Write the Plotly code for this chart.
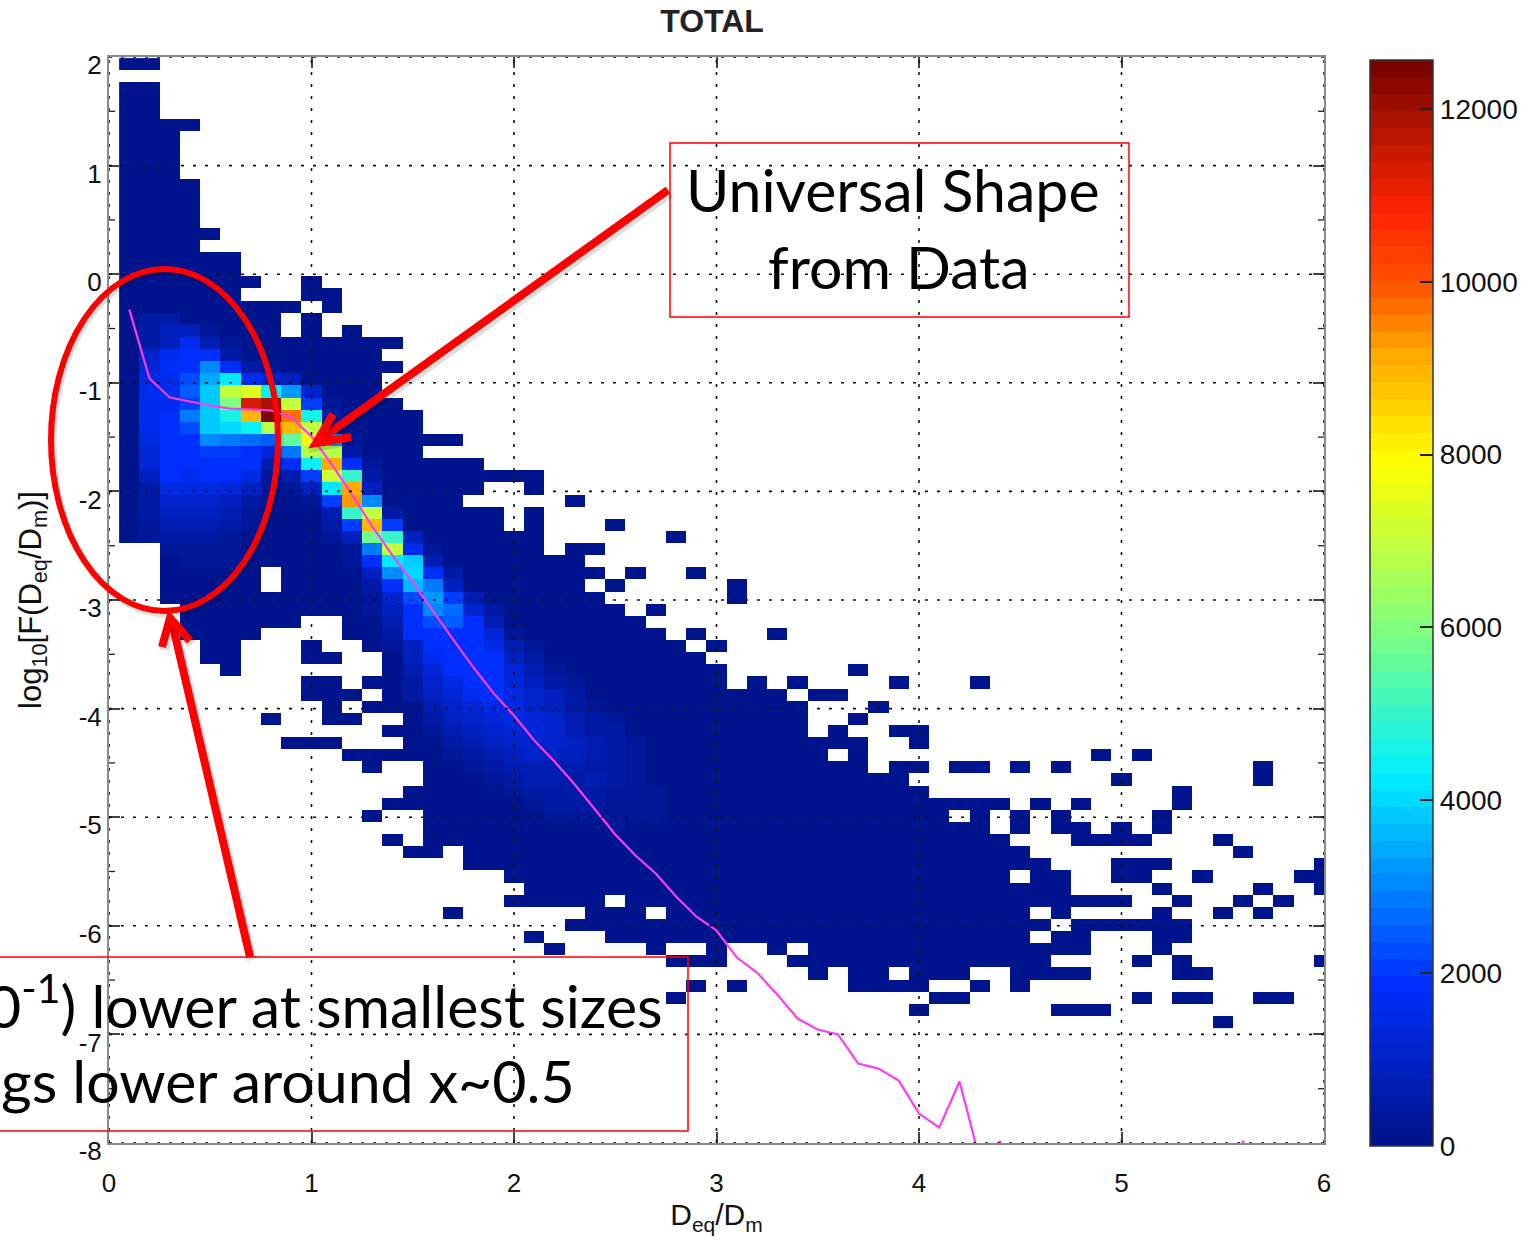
import numpy as np
import plotly.graph_objects as go

# ---------- data ----------
x_centers = [round(0.1 * (k + 1), 1) for k in range(60)]
y_first_center = 1.934
y_step = -0.1117

# occupied cells: row -> inclusive column runs
occupied = {
 0:[(0,1)], 2:[(0,1)], 3:[(0,1)], 4:[(0,1)], 5:[(0,3)], 6:[(0,2)], 7:[(0,2)], 8:[(0,2)], 9:[(0,2)],
 10:[(0,3)], 11:[(0,3)], 12:[(0,3)], 13:[(0,3)], 14:[(0,4)], 15:[(0,3)], 16:[(0,5)], 17:[(0,5)],
 18:[(0,6),(9,9)], 19:[(0,5),(9,10)], 20:[(0,8),(10,10)], 21:[(0,7),(9,9)], 22:[(0,7),(9,9),(11,11)],
 23:[(0,13)], 24:[(0,12)], 25:[(0,13)], 26:[(0,12)], 27:[(0,12)], 28:[(0,13)], 29:[(0,14)], 30:[(0,14)],
 31:[(0,16)], 32:[(0,14)], 33:[(0,17)], 34:[(0,20)], 35:[(0,17),(20,20)], 36:[(0,16),(22,22)],
 37:[(0,18),(20,20)], 38:[(0,18),(20,20),(24,24)], 39:[(0,20),(27,27)], 40:[(2,20),(22,23)], 41:[(2,22)],
 42:[(2,6),(8,23),(25,25),(28,28)], 43:[(2,6),(8,22),(24,24),(30,30)], 44:[(2,23),(30,30)],
 45:[(3,24),(26,26)], 46:[(3,8),(11,25)], 47:[(3,6),(11,26),(28,28),(32,32)],
 48:[(4,5),(9,9),(12,27),(29,29)], 49:[(4,5),(9,10),(13,28)], 50:[(5,5),(13,29),(36,36)],
 51:[(9,10),(12,29),(31,31),(33,33),(38,38),(42,42)], 52:[(9,11),(13,32),(34,35)],
 53:[(10,10),(12,33),(37,37)], 54:[(7,7),(10,11),(14,33),(36,36)], 55:[(13,33),(35,35),(38,39)],
 56:[(8,10),(14,36),(39,39)], 57:[(11,34),(36,36),(48,48),(50,50)],
 58:[(12,12),(15,36),(38,39),(41,42),(44,44),(46,46),(56,56)], 59:[(15,38),(49,49),(56,56)],
 60:[(14,39),(52,52)], 61:[(13,43),(45,45),(47,47),(52,52)],
 62:[(12,12),(15,40),(42,42),(44,44),(46,46),(51,51)], 63:[(15,42),(44,44),(46,47),(49,49),(51,51)],
 64:[(13,13),(15,43),(47,50),(54,54)], 65:[(14,15),(17,44),(55,55)], 66:[(17,45),(49,51),(59,59)],
 67:[(19,43),(45,46),(49,50),(53,53),(58,59)], 68:[(20,46),(51,51),(56,56),(59,59)],
 69:[(19,23),(25,49),(52,52),(55,55),(57,57)], 70:[(16,16),(23,25),(27,44),(46,46),(51,51),(54,54),(56,56)],
 71:[(22,45),(47,52)], 72:[(20,20),(24,44),(46,47),(51,52)],
 73:[(21,21),(26,26),(29,29),(32,32),(34,47),(51,51)], 74:[(27,29),(33,45),(50,50),(52,52),(59,59)],
 75:[(34,34),(36,37),(39,41),(44,47),(52,53)], 76:[(28,28),(30,30),(36,39),(42,42),(44,44)],
 77:[(27,27),(40,41),(50,50),(52,53),(56,57)], 78:[(39,39),(46,48)], 79:[(54,54)],
}

# counts above the dark background: row -> (first column, values)
counts = {
 21:(1,[400,400]),
 22:(0,[150,450,800,800,200]),
 23:(0,[100,500,800,1700,700,200]),
 24:(0,[100,1000,1600,1800,1900,500,100]),
 25:(0,[150,1300,1800,1900,3000,1900,400,200]),
 26:(0,[150,1500,1700,2300,3500,4300,1700,1100,900,100]),
 27:(0,[150,1700,1700,2500,3800,6900,7300,4400,3200,1000]),
 28:(0,[150,1700,1700,2100,3900,6000,11200,11800,6900,2100,200]),
 29:(0,[60,1700,1800,2900,3900,4600,9000,12500,9700,4600,500]),
 30:(0,[60,1700,1800,2300,3900,4100,4400,6800,9000,7000,100]),
 31:(0,[50,1500,1800,1900,3000,2900,2700,2400,5500,8000,3200,300]),
 32:(0,[50,1300,1800,1800,2100,2100,1900,1300,2900,6800,6700,500]),
 33:(0,[50,1200,1800,1800,1900,1800,1800,700,1800,4500,9200,1800,200]),
 34:(1,[800,1800,1700,1800,1800,1500,300,700,2100,7100,5000,500]),
 35:(1,[500,1400,1400,1500,1300,800,200,200,800,4300,9200,800]),
 36:(1,[400,1000,1000,1100,800,500,150,100,200,2000,9300,3000,100]),
 37:(1,[400,800,900,900,700,350,100,50,50,700,5000,6900,400]),
 38:(1,[350,600,700,700,500,300,50,50,50,400,2000,9000,2000,100]),
 39:(1,[300,400,500,500,300,100,50,50,50,300,800,5700,5000,800]),
 40:(2,[250,300,300,300,100,50,50,50,50,300,2900,6900,1700,200]),
 41:(2,[100,200,200,200,50,50,50,50,50,200,1800,4300,3800,700]),
 42:(3,[100,100,100,0,0,0,0,0,0,800,3000,4000,1900,400]),
 43:(12,[500,1800,3700,2800,900]),
 44:(12,[300,1000,2200,3200,2000,700,100]),
 45:(12,[250,900,1900,3000,2700,1100,400,100]),
 46:(13,[600,1900,2300,2500,1800,700,100]),
 47:(13,[500,1900,1900,1900,1900,1200,350,100]),
 48:(13,[200,900,1900,1900,1900,1400,700,250]),
 49:(13,[150,800,1700,1900,1900,1850,950,500,100]),
 50:(13,[50,700,1350,1900,1900,1900,1200,600,250,100]),
 51:(14,[500,1150,1500,1800,1900,1300,850,500,300,100]),
 52:(14,[400,950,1250,1700,1800,1500,1050,800,400,150,100]),
 53:(14,[100,650,1050,1250,1400,1400,1150,850,550,350,150]),
 54:(15,[400,800,1100,1300,1400,1200,1000,600,400,200]),
 55:(15,[300,600,900,1100,1300,1200,1000,700,500,400,150]),
 56:(15,[150,400,600,900,1100,1000,1000,900,600,500,300,100]),
 57:(16,[200,400,700,950,1000,900,850,600,500,300,150]),
 58:(17,[200,400,750,750,700,650,550,450,350,100]),
 59:(18,[300,500,600,600,550,600,400,300,150]),
 60:(18,[100,350,500,500,500,550,350,300,250,120]),
 61:(19,[150,350,400,400,450,350,300,250,120]),
 62:(19,[50,100,250,250,300,250,250,200,150,100]),
 63:(21,[100,50,120,200,100,150]),
}

universal_x = [0.1,0.2,0.3,0.4,0.5,0.6,0.7,0.8,0.9,1.0,1.1,1.2,1.3,1.4,1.5,1.6,1.7,1.8,1.9,2.0,
               2.1,2.2,2.3,2.4,2.5,2.6,2.7,2.8,2.9,3.0,3.1,3.2,3.3,3.4,3.5,3.6,3.7,3.8,3.9,4.0,
               4.1,4.2,4.3,None,4.3,4.4,4.5,None,5.5,5.6,5.7]
universal_y = [-0.325,-0.96,-1.135,-1.172,-1.209,-1.237,-1.246,-1.255,-1.32,-1.494,-1.752,-2.029,-2.323,
               -2.59,-2.839,-3.106,-3.364,-3.622,-3.861,-4.064,-4.294,-4.487,-4.699,-4.929,-5.159,-5.353,
               -5.518,-5.73,-5.914,-6.043,-6.292,-6.431,-6.633,-6.854,-6.955,-7.0,-7.269,-7.315,-7.425,
               -7.729,-7.858,-7.434,-8.15,None,-8.6,-7.98,-8.6,None,-8.6,-7.98,-8.6]

x_ticks = [0,1,2,3,4,5,6]
y_ticks = [2,1,0,-1,-2,-3,-4,-5,-6,-7,-8]
y_tick_text = ["2","1","0","-1","-2","-3","-4","-5","-6","-7","-8"]
bar_ticks = [0,2000,4000,6000,8000,10000,12000]
bar_tick_text = ["0","2000","4000","6000","8000","10000","12000"]
z_top = 12565

# ---------- colours ----------
anchor_v = [0,1900,3000,4300,6000,7900,9200,10000,10800,12000,12565]
anchor_c = [(0,18,135),(0,48,255),(0,135,255),(0,240,255),(130,255,125),(255,255,0),
            (255,165,0),(255,80,0),(255,36,0),(160,16,0),(115,0,0)]
n_bands = 64
scale = []
for i in range(n_bands):
    mid = (i + .5) / n_bands * z_top
    rgb = [int(round(np.interp(mid, anchor_v, [c[j] for c in anchor_c]))) for j in range(3)]
    col = f"rgb({rgb[0]},{rgb[1]},{rgb[2]})"
    scale += [[i / n_bands, col], [(i + 1) / n_bands, col]]

# ---------- grid ----------
n_rows = 80
z = [[None] * 60 for _ in range(n_rows)]
for r, runs in occupied.items():
    for a, b in runs:
        for k in range(a, b + 1):
            z[r][k] = 40
for r, (first, vals) in counts.items():
    for i, v in enumerate(vals):
        if z[r][first + i] is not None:
            z[r][first + i] = max(v, 40)
y_centers = [y_first_center + y_step * r for r in range(n_rows)]

# ---------- page geometry helpers for the overlay drawing ----------
L, R, T, B = 109, 1324, 57, 1143
px = lambda v: (v - L) / (R - L)
py = lambda v: (B - v) / (B - T)
RED = "#ff0000"
FONT = "Liberation Sans"

fig = go.Figure()
fig.add_trace(go.Heatmap(
    x=x_centers, y=y_centers, z=z, zmin=0, zmax=z_top, colorscale=scale, hoverongaps=False, xgap=0, ygap=0,
    colorbar=dict(x=px(1370), xanchor="left", xref="paper", y=py(1146), yanchor="bottom", yref="paper",
                  lenmode="pixels", len=1086, thicknessmode="pixels", thickness=63, xpad=0, ypad=0,
                  outlinecolor="#333", outlinewidth=1.5, tickmode="array", tickvals=bar_ticks,
                  ticktext=bar_tick_text, ticks="inside", ticklen=13, tickcolor="#222", tickwidth=1.5,
                  tickfont=dict(family=FONT, size=28, color="#111"))))
fig.add_trace(go.Scatter(x=universal_x, y=universal_y, mode="lines", connectgaps=False,
                         line=dict(color="rgb(255,60,245)", width=2.2), showlegend=False, hoverinfo="skip"))

shapes = []
DOT = "3px,9px"
for v in x_ticks:
    shapes.append(dict(type="line", xref="x", yref="y", x0=v, x1=v, y0=-8, y1=2, layer="above",
                       line=dict(color="#111", width=1.6, dash=DOT)))
for v in y_ticks:
    shapes.append(dict(type="line", xref="x", yref="y", x0=0, x1=6, y0=v, y1=v, layer="above",
                       line=dict(color="#111", width=1.6, dash=DOT)))
# left/right short ticks at half units, left tick marks on the colour bar
for v in y_ticks[:-1]:
    for x0, x1 in ((0, 0.03), (5.97, 6)):
        shapes.append(dict(type="line", xref="x", yref="y", x0=x0, x1=x1, y0=v - .5, y1=v - .5, layer="above",
                           line=dict(color="#222", width=1.3)))
for v in bar_ticks[1:]:
    yy = 1146 - v / 2000 * 173
    shapes.append(dict(type="line", xref="paper", yref="paper", x0=px(1370), x1=px(1380), y0=py(yy), y1=py(yy),
                       layer="above", line=dict(color="#222", width=1.5)))

def pts(*p, dx=0, dy=0):
    return "M " + " L ".join(f"{px(a + dx):.5f} {py(b + dy):.5f}" for a, b in p)

def stroke(p, width):
    shapes.append(dict(type="path", xref="paper", yref="paper", path=pts(*p, dx=2, dy=3), layer="above",
                       line=dict(color="rgba(0,0,0,0.13)", width=width + 2), fillcolor="rgba(0,0,0,0)"))
    shapes.append(dict(type="path", xref="paper", yref="paper", path=pts(*p), layer="above",
                       line=dict(color=RED, width=width), fillcolor="rgba(0,0,0,0)"))

# annotation boxes
for (x0, x1, y0, y1) in [(670, 1129, 143, 317), (-10, 688, 957, 1131)]:
    shapes.append(dict(type="rect", xref="paper", yref="paper", x0=px(x0), x1=px(x1), y0=py(y0), y1=py(y1),
                       layer="above", line=dict(color=RED, width=1.5)))
# ellipse
shapes.append(dict(type="circle", xref="paper", yref="paper", x0=px(53), x1=px(280), y0=py(272), y1=py(614),
                   layer="above", line=dict(color="rgba(0,0,0,0.13)", width=7)))
shapes.append(dict(type="circle", xref="paper", yref="paper", x0=px(51), x1=px(278), y0=py(269), y1=py(611),
                   layer="above", line=dict(color=RED, width=6)))
# arrows
stroke([(668, 190), (318, 441)], 8)
stroke([(351, 437), (316, 443), (333, 414)], 8)
stroke([(250, 957), (172, 622)], 8)
stroke([(162, 647), (170, 618), (190, 641)], 8)

note_font = dict(family="Lato", size=59, color="#000")
notes = [
    ("Universal Shape", 893, 190, "center"),
    ("from Data", 899, 266, "center"),
    ("0<sup>-1</sup>) lower at smallest sizes", 665, 1001, "right"),
    ("gs lower around x~0.5", 577, 1080, "right"),
]
annotations = [dict(text=t, x=px(a), y=py(b), xref="paper", yref="paper", xanchor=an, yanchor="middle",
                    showarrow=False, font=note_font) for t, a, b, an in notes]

axis_common = dict(showgrid=False, zeroline=False, showline=True, linecolor="#8a8a8a", linewidth=2,
                   mirror="ticks", ticks="inside", ticklen=11, tickcolor="#444", tickwidth=1.5,
                   tickfont=dict(family=FONT, size=26, color="#111"))

fig.update_layout(
    width=1534, height=1245, margin=dict(l=L, r=1534 - R, t=T, b=1245 - B, pad=0, autoexpand=False),
    paper_bgcolor="white", plot_bgcolor="white", showlegend=False,
    title=dict(text="<b>TOTAL</b>", x=712 / 1534, xref="container", xanchor="center", y=1 - 21 / 1245,
               yref="container", yanchor="middle", font=dict(family=FONT, size=32, color="#222")),
    xaxis=dict(range=[0, 6], tickmode="array", tickvals=x_ticks, ticklabelstandoff=16,
               title=dict(text="D<sub>eq</sub>/D<sub>m</sub>", standoff=0, font=dict(family=FONT, size=30, color="#111")),
               **axis_common),
    yaxis=dict(range=[-8, 2], tickmode="array", tickvals=y_ticks, ticktext=y_tick_text, ticklabelshift=8,
               title=dict(text="log<sub>10</sub>[F(D<sub>eq</sub>/D<sub>m</sub>)]", standoff=28,
                          font=dict(family=FONT, size=31, color="#111")),
               **axis_common),
    shapes=shapes, annotations=annotations,
)

fig.write_html("out.html", config=dict(displayModeBar=False),
               post_script="document.body.style.margin='0';document.body.style.overflow='hidden';")
